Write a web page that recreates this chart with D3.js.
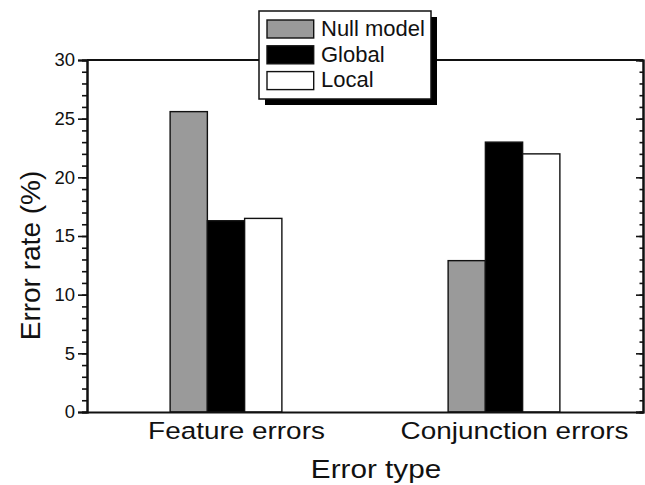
<!DOCTYPE html>
<html>
<head>
<meta charset="utf-8">
<script src="https://cdn.jsdelivr.net/npm/d3@7"></script>
<style>
  body { margin: 0; background: #fff; }
  svg { display: block; }
  .domain { stroke: #111; stroke-width: 2; }
  .tick line { stroke: #111; stroke-width: 1.6; }
  .tick text { fill: #111; }
</style>
</head>
<body>
<svg id="chart" width="645" height="485"></svg>
<script>
const categories = ['Feature errors', 'Conjunction errors'];
const seriesNames = ['Null model', 'Global', 'Local'];
const nullModel = [25.6, 12.9];
const global = [16.3, 23.0];
const local = [16.5, 22.0];
const yMajorTicks = [0, 5, 10, 15, 20, 25, 30];

const seriesColors = ['#9a9a9a', '#000000', '#ffffff'];
const fontFamily = '"Liberation Sans", Arial, Helvetica, sans-serif';
const margin = {top: 60, right: 2, bottom: 73, left: 87};

const svg = d3.select('#chart').attr('font-family', fontFamily);
const contentWidth = svg.attr('width') - margin.left - margin.right;
const contentHeight = svg.attr('height') - margin.top - margin.bottom;
const g = svg.append('g').attr('transform', `translate(${margin.left}, ${margin.top})`);

// categories sit at 1 and 2 on a linear x axis running 0.5 .. 2.5
const xRange = d3.scaleLinear().domain([0.5, 2.5]).range([0, contentWidth]);
const yRange = d3.scaleLinear().domain([0, 30]).range([contentHeight, 0]);
const barWidth = 0.134;

const series = [nullModel, global, local];
const barData = [];
series.forEach((values, s) => {
  values.forEach((v, i) => {
    barData.push({series: s, cat: i, value: v});
  });
});

// frame top line (drawn first so legend can cover it)
g.append('line')
  .attr('x1', 0).attr('x2', contentWidth)
  .attr('y1', 0).attr('y2', 0)
  .attr('stroke', '#111').attr('stroke-width', 2);

// bars
g.append('g').attr('class', 'bars')
  .selectAll('rect').data(barData).enter().append('rect')
  .attr('x', d => xRange(d.cat + 1 + (d.series - 1.5) * barWidth))
  .attr('width', d => xRange(barWidth) - xRange(0))
  .attr('y', d => yRange(d.value))
  .attr('height', d => contentHeight - yRange(d.value))
  .attr('fill', d => seriesColors[d.series])
  .attr('stroke', '#111')
  .attr('stroke-width', 1.4);

// left axis: minor + major ticks pointing out
g.append('g').attr('class', 'y-minor')
  .call(d3.axisLeft(yRange).tickValues(d3.range(0, 31, 1)).tickSize(5).tickFormat(''));
g.append('g').attr('class', 'y-axis')
  .call(d3.axisLeft(yRange).tickValues(yMajorTicks).tickSize(9).tickPadding(3))
  .attr('font-family', fontFamily)
  .attr('font-size', 18.5);

// right axis: ticks pointing in
const yRight = g.append('g').attr('transform', `translate(${contentWidth}, 0)`);
yRight.append('g')
  .call(d3.axisRight(yRange).tickValues(d3.range(0, 31, 1)).tickSize(-3.5).tickFormat(''));
yRight.append('g')
  .call(d3.axisRight(yRange).tickValues(yMajorTicks).tickSize(-7).tickFormat(''));

// bottom axis
g.append('g').attr('class', 'x-axis')
  .attr('transform', `translate(0, ${contentHeight})`)
  .call(d3.axisBottom(xRange).tickValues([1, 2]).tickSize(0).tickPadding(9)
    .tickFormat(d => categories[d - 1]))
  .attr('font-family', fontFamily)
  .attr('font-size', 24.7)
  .selectAll('text')
  .attr('transform', 'translate(10, 0) scale(1.13, 1)');

// axis titles
svg.append('text')
  .attr('transform', 'translate(40, 255.5) rotate(-90)')
  .attr('text-anchor', 'middle')
  .attr('font-size', 28)
  .attr('fill', '#111')
  .text('Error rate (%)');

svg.append('text')
  .attr('transform', 'translate(376, 478.3) scale(1.16, 1)')
  .attr('text-anchor', 'middle')
  .attr('font-size', 25.6)
  .attr('fill', '#111')
  .text('Error type');

// legend with drop shadow
const legend = svg.append('g').attr('class', 'legend').attr('transform', 'translate(259, 11)');
legend.append('rect')
  .attr('x', 6).attr('y', 6).attr('width', 172).attr('height', 88)
  .attr('fill', '#000');
legend.append('rect')
  .attr('x', 0).attr('y', 0).attr('width', 172).attr('height', 88)
  .attr('fill', '#fff').attr('stroke', '#111').attr('stroke-width', 1.5);

const legendRow = d3.scaleLinear().domain([0, 1]).range([9, 34.8]);
const items = legend.selectAll('.item').data(seriesNames).enter().append('g')
  .attr('class', 'item')
  .attr('transform', (d, i) => `translate(8, ${legendRow(i)})`);
items.append('rect')
  .attr('width', 46.7).attr('height', 18)
  .attr('fill', (d, i) => seriesColors[i])
  .attr('stroke', '#111').attr('stroke-width', 1.4);
items.append('text')
  .attr('x', 54).attr('y', 15.7)
  .attr('font-size', 22)
  .attr('fill', '#111')
  .text(d => d);
</script>
</body>
</html>
